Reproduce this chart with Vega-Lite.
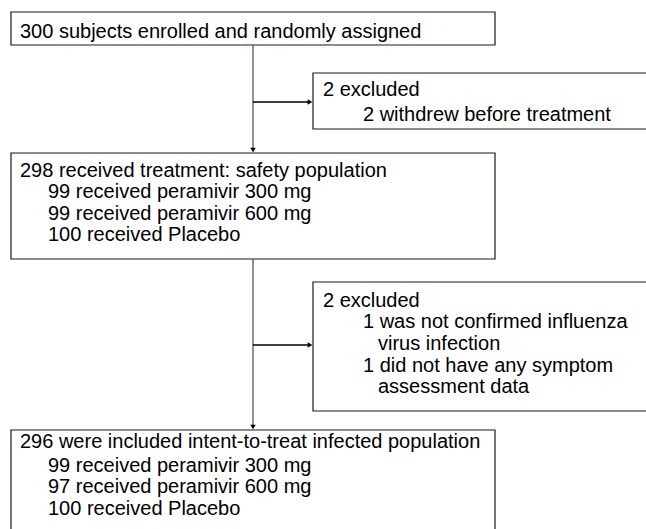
{
  "$schema": "https://vega.github.io/schema/vega-lite/v6.json",
  "width": 646,
  "height": 529,
  "autosize": {"type": "fit", "contains": "padding"},
  "padding": 0,
  "background": "white",
  "config": {"view": {"stroke": null}},
  "datasets": {
    "boxes": [
      {"id": "enrolled", "x": 11, "x2": 495, "y": 12, "y2": 45},
      {"id": "excl1", "x": 313, "x2": 650, "y": 73, "y2": 129},
      {"id": "safety", "x": 11, "x2": 495, "y": 153, "y2": 259},
      {"id": "excl2", "x": 313, "x2": 650, "y": 282, "y2": 411},
      {"id": "itt", "x": 11, "x2": 495, "y": 430, "y2": 540}
    ],
    "links": [
      {"kind": "vertical", "x": 253, "x2": 253, "y": 45, "y2": 150},
      {"kind": "vertical", "x": 253, "x2": 253, "y": 259, "y2": 427},
      {"kind": "horizontal", "x": 253, "x2": 310, "y": 102, "y2": 102},
      {"kind": "horizontal", "x": 253, "x2": 310, "y": 345, "y2": 345}
    ],
    "heads": [
      {"dir": "down", "x": 253, "y": 150},
      {"dir": "down", "x": 253, "y": 427},
      {"dir": "right", "x": 310, "y": 102},
      {"dir": "right", "x": 310, "y": 345}
    ],
    "labels": [
      {"x": 20, "y": 38, "t": "300 subjects enrolled and randomly assigned"},
      {"x": 323, "y": 96, "t": "2 excluded"},
      {"x": 363, "y": 121, "t": "2 withdrew before treatment"},
      {"x": 20, "y": 177, "t": "298 received treatment: safety population"},
      {"x": 48, "y": 198, "t": "99 received peramivir 300 mg"},
      {"x": 48, "y": 220, "t": "99 received peramivir 600 mg"},
      {"x": 48, "y": 241, "t": "100 received Placebo"},
      {"x": 323, "y": 307, "t": "2 excluded"},
      {"x": 363, "y": 328, "t": "1 was not confirmed influenza"},
      {"x": 378, "y": 350, "t": "virus infection"},
      {"x": 363, "y": 372, "t": "1 did not have any symptom"},
      {"x": 378, "y": 393, "t": "assessment data"},
      {"x": 20, "y": 448, "t": "296 were included intent-to-treat infected population"},
      {"x": 48, "y": 472, "t": "99 received peramivir 300 mg"},
      {"x": 48, "y": 493, "t": "97 received peramivir 600 mg"},
      {"x": 48, "y": 515, "t": "100 received Placebo"}
    ]
  },
  "layer": [
    {
      "data": {"name": "boxes"},
      "mark": {"type": "rect", "fill": "white", "stroke": "#1a1a1a", "strokeWidth": 1.2, "clip": true},
      "encoding": {
        "x": {"field": "x", "type": "quantitative", "scale": {"domain": [0, 646], "nice": false, "zero": false}, "axis": null},
        "x2": {"field": "x2"},
        "y": {"field": "y", "type": "quantitative", "scale": {"domain": [0, 529], "nice": false, "zero": false, "reverse": true}, "axis": null},
        "y2": {"field": "y2"}
      }
    },
    {
      "data": {"name": "links"},
      "mark": {"type": "rule", "strokeWidth": 1.3},
      "encoding": {
        "x": {"field": "x", "type": "quantitative"},
        "x2": {"field": "x2"},
        "y": {"field": "y", "type": "quantitative"},
        "y2": {"field": "y2"},
        "color": {"field": "kind", "type": "nominal", "scale": {"domain": ["vertical", "horizontal"], "range": ["#555555", "#000000"]}, "legend": null}
      }
    },
    {
      "data": {"name": "heads"},
      "mark": {"type": "point", "filled": true, "opacity": 1, "size": 30, "color": "#000000"},
      "encoding": {
        "x": {"field": "x", "type": "quantitative"},
        "y": {"field": "y", "type": "quantitative"},
        "shape": {"field": "dir", "type": "nominal", "scale": {"domain": ["down", "right"], "range": ["triangle-down", "triangle-right"]}, "legend": null}
      }
    },
    {
      "data": {"name": "labels"},
      "mark": {"type": "text", "align": "left", "baseline": "alphabetic", "font": "Liberation Sans", "fontSize": 20, "color": "#000000"},
      "encoding": {
        "x": {"field": "x", "type": "quantitative"},
        "y": {"field": "y", "type": "quantitative"},
        "text": {"field": "t", "type": "nominal"}
      }
    }
  ]
}
